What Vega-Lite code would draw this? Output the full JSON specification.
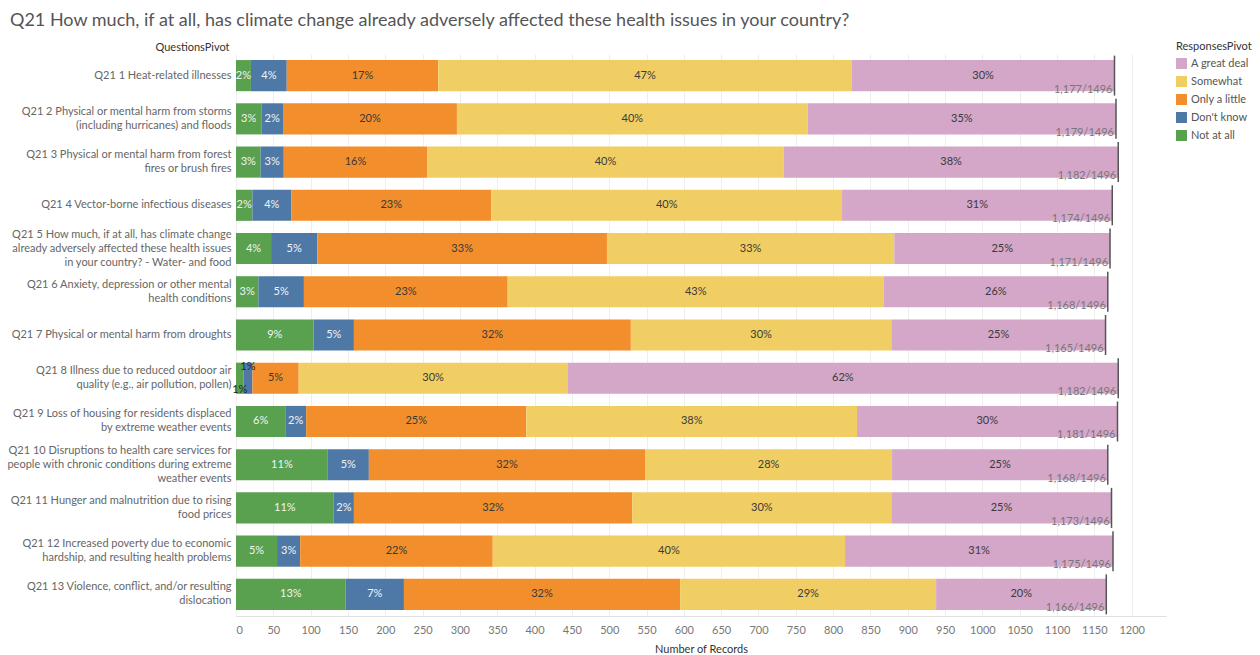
{
  "$schema": "https://vega.github.io/schema/vega-lite/v6.json",
  "width": 930,
  "height": 562,
  "autosize": "none",
  "padding": {"left": 236, "top": 54, "right": 94, "bottom": 39},
  "background": "white",
  "title": {
    "text": "Q21 How much, if at all, has climate change already adversely affected these health issues in your country?",
    "anchor": "start",
    "frame": "group",
    "dx": -226,
    "offset": 11,
    "fontSize": 18,
    "fontWeight": "normal",
    "color": "#555555",
    "font": "Lato"
  },
  "data": {
    "values": [
      {"q": "Q21 1 Heat-related illnesses", "r": "Not at all", "count": 20},
      {"q": "Q21 1 Heat-related illnesses", "r": "Don't know", "count": 48},
      {"q": "Q21 1 Heat-related illnesses", "r": "Only a little", "count": 203},
      {"q": "Q21 1 Heat-related illnesses", "r": "Somewhat", "count": 554},
      {"q": "Q21 1 Heat-related illnesses", "r": "A great deal", "count": 352},
      {"q": "Q21 2 Physical or mental harm from storms\n(including hurricanes) and floods", "r": "Not at all", "count": 34},
      {"q": "Q21 2 Physical or mental harm from storms\n(including hurricanes) and floods", "r": "Don't know", "count": 29},
      {"q": "Q21 2 Physical or mental harm from storms\n(including hurricanes) and floods", "r": "Only a little", "count": 233},
      {"q": "Q21 2 Physical or mental harm from storms\n(including hurricanes) and floods", "r": "Somewhat", "count": 470},
      {"q": "Q21 2 Physical or mental harm from storms\n(including hurricanes) and floods", "r": "A great deal", "count": 413},
      {"q": "Q21 3 Physical or mental harm from forest\nfires or brush fires", "r": "Not at all", "count": 33},
      {"q": "Q21 3 Physical or mental harm from forest\nfires or brush fires", "r": "Don't know", "count": 31},
      {"q": "Q21 3 Physical or mental harm from forest\nfires or brush fires", "r": "Only a little", "count": 192},
      {"q": "Q21 3 Physical or mental harm from forest\nfires or brush fires", "r": "Somewhat", "count": 478},
      {"q": "Q21 3 Physical or mental harm from forest\nfires or brush fires", "r": "A great deal", "count": 448},
      {"q": "Q21 4 Vector-borne infectious diseases", "r": "Not at all", "count": 22},
      {"q": "Q21 4 Vector-borne infectious diseases", "r": "Don't know", "count": 52},
      {"q": "Q21 4 Vector-borne infectious diseases", "r": "Only a little", "count": 268},
      {"q": "Q21 4 Vector-borne infectious diseases", "r": "Somewhat", "count": 470},
      {"q": "Q21 4 Vector-borne infectious diseases", "r": "A great deal", "count": 362},
      {"q": "Q21 5 How much, if at all, has climate change\nalready adversely affected these health issues\nin your country? - Water- and food", "r": "Not at all", "count": 47},
      {"q": "Q21 5 How much, if at all, has climate change\nalready adversely affected these health issues\nin your country? - Water- and food", "r": "Don't know", "count": 62},
      {"q": "Q21 5 How much, if at all, has climate change\nalready adversely affected these health issues\nin your country? - Water- and food", "r": "Only a little", "count": 388},
      {"q": "Q21 5 How much, if at all, has climate change\nalready adversely affected these health issues\nin your country? - Water- and food", "r": "Somewhat", "count": 385},
      {"q": "Q21 5 How much, if at all, has climate change\nalready adversely affected these health issues\nin your country? - Water- and food", "r": "A great deal", "count": 289},
      {"q": "Q21 6 Anxiety, depression or other mental\nhealth conditions", "r": "Not at all", "count": 30},
      {"q": "Q21 6 Anxiety, depression or other mental\nhealth conditions", "r": "Don't know", "count": 61},
      {"q": "Q21 6 Anxiety, depression or other mental\nhealth conditions", "r": "Only a little", "count": 273},
      {"q": "Q21 6 Anxiety, depression or other mental\nhealth conditions", "r": "Somewhat", "count": 504},
      {"q": "Q21 6 Anxiety, depression or other mental\nhealth conditions", "r": "A great deal", "count": 300},
      {"q": "Q21 7 Physical or mental harm from droughts", "r": "Not at all", "count": 104},
      {"q": "Q21 7 Physical or mental harm from droughts", "r": "Don't know", "count": 54},
      {"q": "Q21 7 Physical or mental harm from droughts", "r": "Only a little", "count": 371},
      {"q": "Q21 7 Physical or mental harm from droughts", "r": "Somewhat", "count": 349},
      {"q": "Q21 7 Physical or mental harm from droughts", "r": "A great deal", "count": 287},
      {"q": "Q21 8 Illness due to reduced outdoor air\nquality (e.g., air pollution, pollen)", "r": "Not at all", "count": 10},
      {"q": "Q21 8 Illness due to reduced outdoor air\nquality (e.g., air pollution, pollen)", "r": "Don't know", "count": 12},
      {"q": "Q21 8 Illness due to reduced outdoor air\nquality (e.g., air pollution, pollen)", "r": "Only a little", "count": 62},
      {"q": "Q21 8 Illness due to reduced outdoor air\nquality (e.g., air pollution, pollen)", "r": "Somewhat", "count": 360},
      {"q": "Q21 8 Illness due to reduced outdoor air\nquality (e.g., air pollution, pollen)", "r": "A great deal", "count": 738},
      {"q": "Q21 9 Loss of housing for residents displaced\nby extreme weather events", "r": "Not at all", "count": 66},
      {"q": "Q21 9 Loss of housing for residents displaced\nby extreme weather events", "r": "Don't know", "count": 28},
      {"q": "Q21 9 Loss of housing for residents displaced\nby extreme weather events", "r": "Only a little", "count": 295},
      {"q": "Q21 9 Loss of housing for residents displaced\nby extreme weather events", "r": "Somewhat", "count": 443},
      {"q": "Q21 9 Loss of housing for residents displaced\nby extreme weather events", "r": "A great deal", "count": 349},
      {"q": "Q21 10 Disruptions to health care services for\npeople with chronic conditions during extreme\nweather events", "r": "Not at all", "count": 123},
      {"q": "Q21 10 Disruptions to health care services for\npeople with chronic conditions during extreme\nweather events", "r": "Don't know", "count": 55},
      {"q": "Q21 10 Disruptions to health care services for\npeople with chronic conditions during extreme\nweather events", "r": "Only a little", "count": 370},
      {"q": "Q21 10 Disruptions to health care services for\npeople with chronic conditions during extreme\nweather events", "r": "Somewhat", "count": 331},
      {"q": "Q21 10 Disruptions to health care services for\npeople with chronic conditions during extreme\nweather events", "r": "A great deal", "count": 289},
      {"q": "Q21 11 Hunger and malnutrition due to rising\nfood prices", "r": "Not at all", "count": 131},
      {"q": "Q21 11 Hunger and malnutrition due to rising\nfood prices", "r": "Don't know", "count": 27},
      {"q": "Q21 11 Hunger and malnutrition due to rising\nfood prices", "r": "Only a little", "count": 373},
      {"q": "Q21 11 Hunger and malnutrition due to rising\nfood prices", "r": "Somewhat", "count": 347},
      {"q": "Q21 11 Hunger and malnutrition due to rising\nfood prices", "r": "A great deal", "count": 295},
      {"q": "Q21 12 Increased poverty due to economic\nhardship, and resulting health problems", "r": "Not at all", "count": 55},
      {"q": "Q21 12 Increased poverty due to economic\nhardship, and resulting health problems", "r": "Don't know", "count": 31},
      {"q": "Q21 12 Increased poverty due to economic\nhardship, and resulting health problems", "r": "Only a little", "count": 258},
      {"q": "Q21 12 Increased poverty due to economic\nhardship, and resulting health problems", "r": "Somewhat", "count": 472},
      {"q": "Q21 12 Increased poverty due to economic\nhardship, and resulting health problems", "r": "A great deal", "count": 359},
      {"q": "Q21 13 Violence, conflict, and/or resulting\ndislocation", "r": "Not at all", "count": 147},
      {"q": "Q21 13 Violence, conflict, and/or resulting\ndislocation", "r": "Don't know", "count": 78},
      {"q": "Q21 13 Violence, conflict, and/or resulting\ndislocation", "r": "Only a little", "count": 370},
      {"q": "Q21 13 Violence, conflict, and/or resulting\ndislocation", "r": "Somewhat", "count": 343},
      {"q": "Q21 13 Violence, conflict, and/or resulting\ndislocation", "r": "A great deal", "count": 228}
    ]
  },
  "transform": [
    {"calculate": "indexof(['Not at all', 'Don\\'t know', 'Only a little', 'Somewhat', 'A great deal'], datum.r)", "as": "idx"},
    {"joinaggregate": [{"op": "sum", "field": "count", "as": "total"}], "groupby": ["q"]},
    {"calculate": "datum.count / datum.total", "as": "pct"},
    {"stack": "count", "groupby": ["q"], "sort": [{"field": "idx", "order": "ascending"}], "as": ["x0", "x1"]},
    {"calculate": "(datum.x0 + datum.x1) / 2", "as": "mid"},
    {"calculate": "format(datum.total, ',') + '/1496'", "as": "totlabel"}
  ],
  "encoding": {
    "y": {
      "field": "q",
      "type": "nominal",
      "sort": null,
      "scale": {"paddingInner": 0.28, "paddingOuter": 0.14},
      "axis": {
        "title": "QuestionsPivot",
        "titleAngle": 0,
        "titleX": -7,
        "titleY": -7,
        "titleAlign": "right",
        "titleBaseline": "middle",
        "labelExpr": "split(datum.label, '\\n')",
        "labelLineHeight": 14,
        "labelLimit": 260,
        "labelOffset": {
          "condition": [
            {"test": "length(split(datum.value, '\\n')) == 3", "value": -14},
            {"test": "length(split(datum.value, '\\n')) == 2", "value": -7}
          ],
          "value": 0
        }
      }
    }
  },
  "layer": [
    {
      "mark": {"type": "bar"},
      "encoding": {
        "x": {"field": "x0", "type": "quantitative", "scale": {"domain": [0, 1246], "nice": false}, "title": "Number of Records"},
        "x2": {"field": "x1"},
        "color": {
          "field": "r",
          "type": "nominal",
          "scale": {
            "domain": ["A great deal", "Somewhat", "Only a little", "Don't know", "Not at all"],
            "range": ["#D4A6C8", "#F1CE63", "#F28E2B", "#4E79A7", "#59A14F"]
          },
          "legend": {
            "title": "ResponsesPivot",
            "orient": "none",
            "legendX": 940,
            "legendY": -13,
            "symbolType": "square",
            "symbolSize": 120,
            "symbolStrokeWidth": 0,
            "symbolOpacity": 1,
            "rowPadding": 6,
            "titlePadding": 6
          }
        }
      }
    },
    {
      "transform": [{"filter": "datum.pct >= 0.015 && datum.idx < 2"}],
      "mark": {"type": "text", "fontSize": 11, "color": "#f3f3f3", "baseline": "middle", "align": "center"},
      "encoding": {
        "x": {"field": "mid", "type": "quantitative", "scale": {"domain": [0, 1246], "nice": false}, "title": "Number of Records"},
        "text": {"field": "pct", "type": "quantitative", "format": ".0%"}
      }
    },
    {
      "transform": [{"filter": "datum.pct >= 0.015 && datum.idx >= 2"}],
      "mark": {"type": "text", "fontSize": 11, "color": "#3a3a3a", "baseline": "middle", "align": "center"},
      "encoding": {
        "x": {"field": "mid", "type": "quantitative", "scale": {"domain": [0, 1246], "nice": false}, "title": "Number of Records"},
        "text": {"field": "pct", "type": "quantitative", "format": ".0%"}
      }
    },
    {
      "transform": [{"filter": "datum.pct < 0.015 && datum.idx == 1"}],
      "mark": {"type": "text", "fontSize": 11, "color": "#222", "baseline": "middle", "align": "center", "dy": -11},
      "encoding": {
        "x": {"field": "mid", "type": "quantitative", "scale": {"domain": [0, 1246], "nice": false}, "title": "Number of Records"},
        "text": {"field": "pct", "type": "quantitative", "format": ".0%"}
      }
    },
    {
      "transform": [{"filter": "datum.pct < 0.015 && datum.idx == 0"}],
      "mark": {"type": "text", "fontSize": 11, "color": "#222", "baseline": "middle", "align": "center", "dy": 12},
      "encoding": {
        "x": {"field": "mid", "type": "quantitative", "scale": {"domain": [0, 1246], "nice": false}, "title": "Number of Records"},
        "text": {"field": "pct", "type": "quantitative", "format": ".0%"}
      }
    },
    {
      "transform": [{"filter": "datum.idx == 4"}],
      "mark": {"type": "tick", "orient": "vertical", "size": 40, "thickness": 1.5, "color": "#555555", "opacity": 1},
      "encoding": {
        "x": {"field": "x1", "type": "quantitative", "scale": {"domain": [0, 1246], "nice": false}, "title": "Number of Records"}
      }
    },
    {
      "transform": [{"filter": "datum.idx == 4"}],
      "mark": {"type": "text", "fontSize": 11, "color": "#777777", "baseline": "middle", "align": "right", "dx": -2, "dy": 14},
      "encoding": {
        "x": {"field": "x1", "type": "quantitative", "scale": {"domain": [0, 1246], "nice": false}, "title": "Number of Records"},
        "text": {"field": "totlabel", "type": "nominal"}
      }
    }
  ],
  "config": {
    "font": "Lato",
    "view": {"stroke": null},
    "axis": {"labelFont": "Lato", "titleFont": "Lato"},
    "axisX": {
      "grid": true,
      "gridColor": "#eeeeee",
      "domainColor": "#e0e0e0",
      "ticks": false,
      "format": "d",
      "values": [0, 50, 100, 150, 200, 250, 300, 350, 400, 450, 500, 550, 600, 650, 700, 750, 800, 850, 900, 950, 1000, 1050, 1100, 1150, 1200],
      "labelColor": "#777777",
      "labelFontSize": 11,
      "labelPadding": 8,
      "titleFontSize": 11,
      "titleColor": "#333333",
      "titleFontWeight": "normal",
      "titlePadding": 8
    },
    "axisY": {
      "grid": false,
      "ticks": false,
      "domain": false,
      "labelColor": "#666666",
      "labelFontSize": 11,
      "labelPadding": 5,
      "titleFontSize": 11,
      "titleColor": "#333333",
      "titleFontWeight": "normal"
    },
    "legend": {
      "labelFont": "Lato",
      "titleFont": "Lato",
      "labelFontSize": 11,
      "labelColor": "#555555",
      "titleFontSize": 11,
      "titleColor": "#333333",
      "titleFontWeight": "normal"
    }
  }
}
